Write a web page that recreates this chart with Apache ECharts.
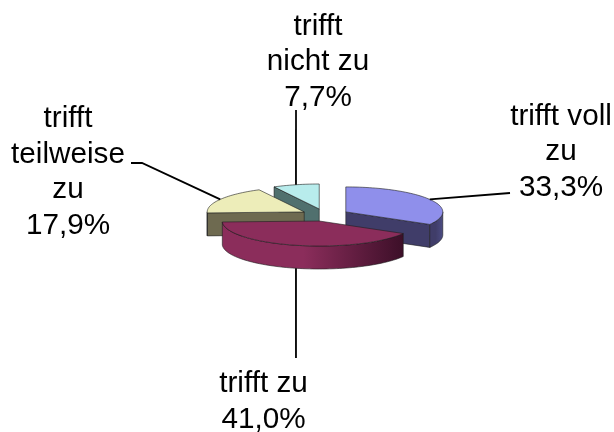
<!DOCTYPE html>
<html><head><meta charset="utf-8">
<style>html,body{margin:0;padding:0;background:#fff}#c{width:614px;height:432px}</style>
<script src="https://cdn.jsdelivr.net/npm/echarts@6/dist/echarts.min.js"></script>
</head><body><div id="c"></div>
<script>
const categories = ['trifft voll\nzu', 'trifft zu', 'trifft\nteilweise\nzu', 'trifft\nnicht zu'];
const percentages = [33.3, 41.0, 17.9, 7.7];
const drawOrder = [3, 2, 0, 1];
const topColors = ['#8f8feb', '#8b2d5b', '#ededb9', '#b8ecec'];
const faceColors = ['#403d69', '#6d2347', '#6e6a50', '#50706e'];
const wallStops = [['#403d69', '#4c4c84'], ['#8b2d5b', '#3c0f28'], ['#6e6a50', '#6e6a50'], ['#50706e', '#50706e']];
// label anchor (centre x, centre y) and elbow of leader line
const labelLayout = [
  {x: 561, y: 152, to: [[510, 193]]},
  {x: 263.5, y: 402, to: [[296, 358]]},
  {x: 68,  y: 172.5, to: [[142, 163], [131, 163]]},
  {x: 318, y: 62,  to: [[296, 110]]}
];
const G = {cx: 325, cy: 215, rx: 97, ry: 25, depth: 23, explode: 24};
const total = percentages.reduce((a, b) => a + b, 0);
const starts = [];
percentages.reduce((acc, v, i) => { starts[i] = acc; return acc + v / total * 360; }, 0);
const rad = d => d * Math.PI / 180;
function rim(o, deg, dy) {
  return [o[0] + G.rx * Math.sin(rad(deg)), o[1] - G.ry * Math.cos(rad(deg)) + (dy || 0)];
}
function arc(o, a0, a1, dy) {
  const pts = [], n = Math.max(2, Math.ceil(Math.abs(a1 - a0) / 2));
  for (let i = 0; i <= n; i++) pts.push(rim(o, a0 + (a1 - a0) * i / n, dy));
  return pts;
}
const edge = {stroke: 'rgba(30,30,30,0.75)', lineWidth: 0.8};
function renderItem(params, api) {
  const idx = api.value(0), a0 = starts[idx], a1 = a0 + percentages[idx] / total * 360, mid = (a0 + a1) / 2;
  const o = [G.cx + G.explode * Math.sin(rad(mid)), G.cy - G.explode * (G.ry / G.rx) * Math.cos(rad(mid))];
  const down = p => [p[0], p[1] + G.depth];
  const children = [];
  const poly = (points, fill) => children.push({type: 'polygon', shape: {points}, style: Object.assign({fill}, edge)});
  // cut faces
  if (a0 > 180 && a0 < 360) { const e = rim(o, a0); poly([o, e, down(e), down(o)], faceColors[idx]); }
  if (a1 > 0 && a1 < 180) { const e = rim(o, a1); poly([o, e, down(e), down(o)], faceColors[idx]); }
  // outer wall (front half only)
  const w0 = Math.max(a0, 90), w1 = Math.min(a1, 270);
  if (w1 > w0) {
    const t = arc(o, w0, w1), b = arc(o, w1, w0, G.depth);
    const s = wallStops[idx];
    children.push({type: 'polygon', shape: {points: t.concat(b)}, style: Object.assign({
      fill: new echarts.graphic.LinearGradient(0, 0, 1, 0, [{offset: 0, color: s[0]}, {offset: 0.45, color: s[0]}, {offset: 1, color: s[1]}])
    }, edge)});
  }
  // top
  poly([o].concat(arc(o, a0, a1)), topColors[idx]);
  // leader
  const l = labelLayout[idx];
  const onFront = mid > 90 && mid < 270;
  const start = rim(o, mid, onFront ? G.depth : 0);
  children.push({type: 'polyline', shape: {points: [start].concat(l.to)}, style: {stroke: '#000', lineWidth: 1.8, fill: null}});
  children.push({type: 'text', x: l.x, y: l.y, style: {
    text: categories[idx] + '\n' + percentages[idx].toFixed(1).replace('.', ',') + '%',
    font: '29.7px "Liberation Sans", Arial, sans-serif', lineHeight: 35.5, fill: '#000',
    align: 'center', verticalAlign: 'middle'}});
  return {type: 'group', children};
}
const chart = echarts.init(document.getElementById('c'), null, {renderer: 'canvas'});
chart.setOption({
  animation: false, backgroundColor: '#fff',
  series: [{type: 'custom', coordinateSystem: 'none', renderItem, silent: true,
    encode: {}, data: drawOrder.map(i => [i])}]
});
</script></body></html>
